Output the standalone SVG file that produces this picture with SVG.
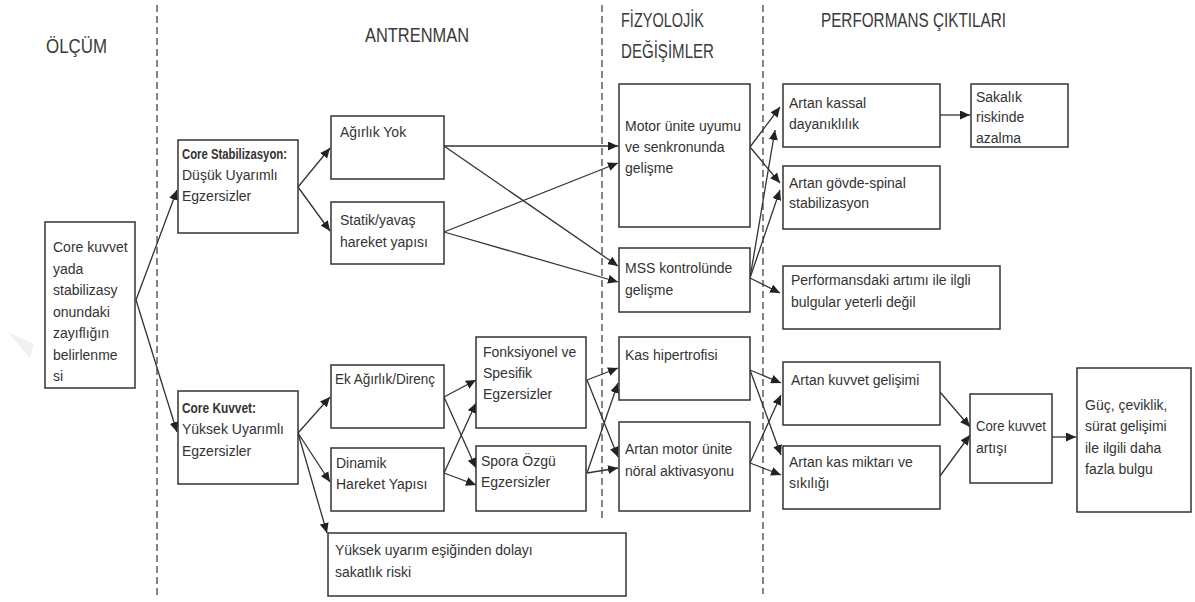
<svg xmlns="http://www.w3.org/2000/svg" width="1195" height="602" viewBox="0 0 1195 602">
<style>
.bx{fill:#fff;stroke:#333;stroke-width:1.5}
.t{font-family:"Liberation Sans",Arial,sans-serif;font-size:14px;fill:#333}
.b{font-weight:bold}
.h{font-family:"Liberation Sans",Arial,sans-serif;font-size:21px;fill:#3a3a3a}
.dl{stroke:#444;stroke-width:1.3;stroke-dasharray:7 4;fill:none}
.c{stroke:#333;stroke-width:1.3;fill:none;marker-end:url(#ah)}
</style>
<defs>
<marker id="ah" markerUnits="userSpaceOnUse" markerWidth="11" markerHeight="9" refX="10" refY="4.5" orient="auto">
<path d="M0,0 L10,4.5 L0,9 z" fill="#222"/>
</marker>
</defs>
<rect width="1195" height="602" fill="#fff"/>
<polygon points="8,332 34,344 30,358" fill="#f1f1f1"/>

<g id="headers">
<text class="h" x="46" y="53" textLength="61" lengthAdjust="spacingAndGlyphs">ÖLÇÜM</text>
<text class="h" x="365" y="42" textLength="104" lengthAdjust="spacingAndGlyphs">ANTRENMAN</text>
<text class="h" x="621" y="27" textLength="83" lengthAdjust="spacingAndGlyphs">FİZYOLOJİK</text>
<text class="h" x="621" y="58" textLength="93" lengthAdjust="spacingAndGlyphs">DEĞİŞİMLER</text>
<text class="h" x="821" y="27" textLength="185" lengthAdjust="spacingAndGlyphs">PERFORMANS ÇIKTILARI</text>
</g>

<g id="dividers">
<line class="dl" x1="157" y1="5" x2="157" y2="596"/>
<line class="dl" x1="602" y1="5" x2="602" y2="520"/>
<line class="dl" x1="763" y1="5" x2="763" y2="594"/>
</g>

<g id="connectors">
<line class="c" x1="136" y1="300" x2="177" y2="190"/>
<line class="c" x1="136" y1="300" x2="177" y2="432"/>
<line class="c" x1="298" y1="187" x2="330" y2="148"/>
<line class="c" x1="298" y1="187" x2="330" y2="231"/>
<line class="c" x1="298" y1="433" x2="330" y2="397"/>
<line class="c" x1="298" y1="433" x2="330" y2="482"/>
<line class="c" x1="298" y1="433" x2="327" y2="533"/>
<line class="c" x1="444" y1="146" x2="618" y2="146"/>
<line class="c" x1="444" y1="146" x2="618" y2="266"/>
<line class="c" x1="444" y1="232" x2="618" y2="163"/>
<line class="c" x1="444" y1="232" x2="618" y2="282"/>
<line class="c" x1="444" y1="397" x2="476" y2="380"/>
<line class="c" x1="444" y1="397" x2="476" y2="468"/>
<line class="c" x1="444" y1="473" x2="476" y2="403"/>
<line class="c" x1="444" y1="473" x2="476" y2="485"/>
<line class="c" x1="587" y1="380" x2="618" y2="368"/>
<line class="c" x1="587" y1="380" x2="618" y2="457"/>
<line class="c" x1="587" y1="473" x2="618" y2="383"/>
<line class="c" x1="587" y1="473" x2="618" y2="468"/>
<line class="c" x1="750" y1="147" x2="780" y2="107"/>
<line class="c" x1="750" y1="147" x2="780" y2="183"/>
<line class="c" x1="750" y1="278" x2="775" y2="130"/>
<line class="c" x1="750" y1="278" x2="780" y2="190"/>
<line class="c" x1="750" y1="278" x2="780" y2="293"/>
<line class="c" x1="750" y1="370" x2="781" y2="383"/>
<line class="c" x1="750" y1="370" x2="781" y2="455"/>
<line class="c" x1="750" y1="463" x2="781" y2="395"/>
<line class="c" x1="750" y1="463" x2="781" y2="475"/>
<line class="c" x1="940" y1="115" x2="970" y2="115"/>
<line class="c" x1="940" y1="392" x2="970" y2="427"/>
<line class="c" x1="940" y1="476" x2="970" y2="435"/>
<line class="c" x1="1052" y1="437" x2="1076" y2="437"/>
</g>

<g id="n-olcum">
<rect class="bx" x="45" y="222" width="90" height="166"/>
<text class="t" x="53" y="252">Core kuvvet</text>
<text class="t" x="53" y="273.5">yada</text>
<text class="t" x="53" y="295">stabilizasy</text>
<text class="t" x="53" y="316.5">onundaki</text>
<text class="t" x="53" y="338">zayıflığın</text>
<text class="t" x="53" y="359.5">belirlenme</text>
<text class="t" x="53" y="381">si</text>
</g>

<g id="n-corestab">
<rect class="bx" x="178" y="140" width="120" height="93"/>
<text class="t b" x="182" y="159" textLength="105" lengthAdjust="spacingAndGlyphs">Core Stabilizasyon:</text>
<text class="t" x="182" y="180">Düşük Uyarımlı</text>
<text class="t" x="182" y="201">Egzersizler</text>
</g>

<g id="n-agirlikyok">
<rect class="bx" x="331" y="116" width="113" height="63"/>
<text class="t" x="340" y="137">Ağırlık Yok</text>
</g>

<g id="n-statik">
<rect class="bx" x="331" y="202" width="113" height="62"/>
<text class="t" x="340" y="225">Statik/yavaş</text>
<text class="t" x="340" y="247">hareket yapısı</text>
</g>

<g id="n-corekuvvet">
<rect class="bx" x="178" y="391" width="120" height="93"/>
<text class="t b" x="182" y="413" textLength="74" lengthAdjust="spacingAndGlyphs">Core Kuvvet:</text>
<text class="t" x="182" y="434">Yüksek Uyarımlı</text>
<text class="t" x="182" y="456">Egzersizler</text>
</g>

<g id="n-ekagirlik">
<rect class="bx" x="331" y="365" width="113" height="63"/>
<text class="t" x="335" y="384" textLength="100" lengthAdjust="spacingAndGlyphs">Ek Ağırlık/Direnç</text>
</g>

<g id="n-dinamik">
<rect class="bx" x="331" y="448" width="113" height="63"/>
<text class="t" x="336" y="468">Dinamik</text>
<text class="t" x="336" y="489">Hareket Yapısı</text>
</g>

<g id="n-fonksiyonel">
<rect class="bx" x="476" y="337" width="110" height="91"/>
<text class="t" x="483" y="357">Fonksiyonel ve</text>
<text class="t" x="483" y="378">Spesifik</text>
<text class="t" x="483" y="399">Egzersizler</text>
</g>

<g id="n-spora">
<rect class="bx" x="476" y="446" width="110" height="65"/>
<text class="t" x="481" y="466">Spora Özgü</text>
<text class="t" x="481" y="487">Egzersizler</text>
</g>

<g id="n-yuksek">
<rect class="bx" x="328" y="533" width="298" height="63"/>
<text class="t" x="335" y="555">Yüksek uyarım eşiğinden dolayı</text>
<text class="t" x="335" y="577">sakatlık riski</text>
</g>

<g id="n-motor">
<rect class="bx" x="619" y="84" width="131" height="143"/>
<text class="t" x="625" y="131">Motor ünite uyumu</text>
<text class="t" x="625" y="152">ve senkronunda</text>
<text class="t" x="625" y="173">gelişme</text>
</g>

<g id="n-mss">
<rect class="bx" x="619" y="248" width="131" height="64"/>
<text class="t" x="625" y="273">MSS kontrolünde</text>
<text class="t" x="625" y="295">gelişme</text>
</g>

<g id="n-kaship">
<rect class="bx" x="619" y="337" width="131" height="63"/>
<text class="t" x="625" y="360">Kas hipertrofisi</text>
</g>

<g id="n-artanmotor">
<rect class="bx" x="619" y="422" width="131" height="89"/>
<text class="t" x="625" y="454">Artan motor ünite</text>
<text class="t" x="625" y="476">nöral aktivasyonu</text>
</g>

<g id="n-kassal">
<rect class="bx" x="783" y="84" width="157" height="63"/>
<text class="t" x="789" y="108">Artan kassal</text>
<text class="t" x="789" y="129">dayanıklılık</text>
</g>

<g id="n-sakatlik">
<rect class="bx" x="971" y="84" width="97" height="63"/>
<text class="t" x="976" y="102">Sakalık</text>
<text class="t" x="976" y="122">riskinde</text>
<text class="t" x="976" y="143">azalma</text>
</g>

<g id="n-govde">
<rect class="bx" x="783" y="166" width="157" height="63"/>
<text class="t" x="789" y="188">Artan gövde-spinal</text>
<text class="t" x="789" y="208">stabilizasyon</text>
</g>

<g id="n-performans">
<rect class="bx" x="783" y="266" width="217" height="63"/>
<text class="t" x="791" y="285">Performansdaki artımı ile ilgli</text>
<text class="t" x="791" y="307">bulgular yeterli değil</text>
</g>

<g id="n-kuvvetgel">
<rect class="bx" x="783" y="362" width="157" height="63"/>
<text class="t" x="791" y="385">Artan kuvvet gelişimi</text>
</g>

<g id="n-kasmiktari">
<rect class="bx" x="783" y="446" width="157" height="63"/>
<text class="t" x="789" y="467">Artan kas miktarı ve</text>
<text class="t" x="789" y="488">sıkılığı</text>
</g>

<g id="n-coreartis">
<rect class="bx" x="970" y="394" width="82" height="89"/>
<text class="t" x="976" y="431" textLength="70" lengthAdjust="spacingAndGlyphs">Core kuvvet</text>
<text class="t" x="976" y="453">artışı</text>
</g>

<g id="n-guc">
<rect class="bx" x="1077" y="368" width="114" height="144"/>
<text class="t" x="1085" y="410">Güç, çeviklik,</text>
<text class="t" x="1085" y="431">sürat gelişimi</text>
<text class="t" x="1085" y="453">ile ilgili daha</text>
<text class="t" x="1085" y="474">fazla bulgu</text>
</g>
</svg>
